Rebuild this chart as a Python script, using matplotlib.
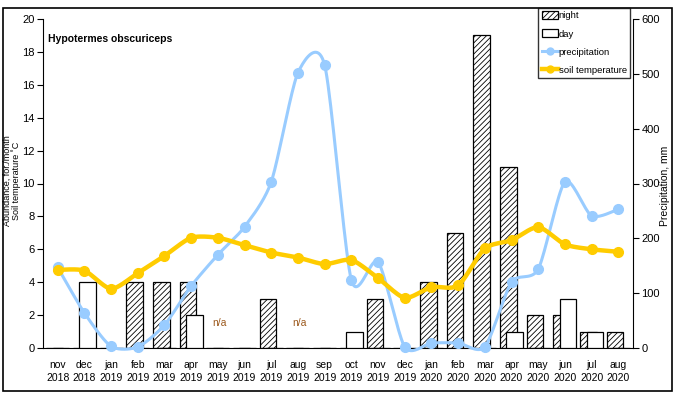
import numpy as np
import matplotlib
matplotlib.use("Agg")
import matplotlib.pyplot as plt
from matplotlib.patches import Rectangle, Patch
from matplotlib.lines import Line2D

plt.rcParams['font.family'] = ['Liberation Sans', 'DejaVu Sans']
plt.rcParams['hatch.linewidth'] = 0.6

months = ['nov\n2018', 'dec\n2018', 'jan\n2019', 'feb\n2019', 'mar\n2019', 'apr\n2019',
          'may\n2019', 'jun\n2019', 'jul\n2019', 'aug\n2019', 'sep\n2019', 'oct\n2019',
          'nov\n2019', 'dec\n2019', 'jan\n2020', 'feb\n2020', 'mar\n2020', 'apr\n2020',
          'may\n2020', 'jun\n2020', 'jul\n2020', 'aug\n2020']
night = [0, 0, 0, 4, 4, 4, 0, 0, 3, 0, 0, 0, 3, 0, 4, 7, 19, 11, 2, 2, 1, 1]
day = [0, 4, 0, 0, 0, 2, 0, 0, 0, 0, 0, 1, 0, 0, 0, 0, 0, 1, 0, 3, 1, 0]
precipitation = [147, 64, 3, 2, 42, 113, 170, 221, 303, 502, 516, 124,
                 157, 2, 9, 9, 2, 120, 144, 303, 241, 253]
soil_temp = [4.75, 4.7, 3.6, 4.55, 5.6, 6.7, 6.7, 6.25, 5.8, 5.5, 5.1, 5.35,
             4.25, 3.05, 3.7, 3.8, 6.05, 6.55, 7.35, 6.3, 6.0, 5.85]
na_months = ['may\n2019', 'aug\n2019']

def smooth(x, y, n=20, k=8.0):
    # excel style smoothed line (bezier between the points)
    x = np.asarray(x, float)
    y = np.asarray(y, float)
    px = np.concatenate([[x[0]], x, [x[-1]]])
    py = np.concatenate([[y[0]], y, [y[-1]]])
    xs, ys = [], []
    t = np.linspace(0, 1, n, endpoint=False)
    for i in range(1, len(px) - 2):
        for p, out in ((px, xs), (py, ys)):
            p0, p1, p2, p3 = p[i - 1], p[i], p[i + 1], p[i + 2]
            c1 = p1 + (p2 - p0) / k
            c2 = p2 - (p3 - p1) / k
            out.extend((1 - t) ** 3 * p1 + 3 * (1 - t) ** 2 * t * c1 + 3 * (1 - t) * t ** 2 * c2 + t ** 3 * p2)
    xs.append(x[-1])
    ys.append(y[-1])
    return np.array(xs), np.array(ys)

x = np.arange(len(months))
blue = '#99CCFF'
gold = '#FFCC00'

fig = plt.figure(figsize=(6.84, 3.99), dpi=100)
ax = fig.add_axes([43 / 684, 1 - 348 / 399, 590 / 684, 329 / 399])

ax.bar(x - 0.12, night, width=0.62, color='white', edgecolor='black', hatch='//////', linewidth=0.9, zorder=2)
ax.bar(x + 0.12, day, width=0.62, color='white', edgecolor='black', linewidth=0.9, zorder=3)
for m in na_months:
    ax.text(months.index(m) - 0.2, 1.5, 'n/a', color='#9C5A1E', fontsize=7.5, va='center')

ax.set_ylim(0, 20)
ax.set_xlim(-0.55, len(months) - 0.45)
ax.set_yticks(range(0, 21, 2))
ax.set_xticks(x)
ax.set_xticklabels(months, fontsize=7.5, linespacing=1.35)
ax.tick_params(axis='x', length=0, pad=9)
ax.tick_params(axis='y', direction='out', length=4, labelsize=8, pad=2)
for s in ['top', 'right']:
    ax.spines[s].set_visible(False)
ax.text(0.008, 0.955, 'Hypotermes obscuriceps', transform=ax.transAxes, fontsize=7.5,
        fontweight='bold', va='top')

ax2 = ax.twinx()
sx, sy = smooth(x, precipitation)
ax2.plot(sx, sy, color=blue, lw=2.2, clip_on=False, solid_capstyle='round')
ax2.plot(x, precipitation, 'o', color=blue, ms=7, clip_on=False)
ax2.set_ylim(0, 600)
ax2.set_yticks(range(0, 601, 100))
ax2.tick_params(axis='y', direction='out', length=4, labelsize=8, pad=2)
for s in ['top', 'left', 'bottom']:
    ax2.spines[s].set_visible(False)

ax3 = ax.twinx()
tx, ty = smooth(x, soil_temp)
ax3.plot(tx, ty, color=gold, lw=3.2, clip_on=False)
ax3.plot(x, soil_temp, 'o', color=gold, ms=7, clip_on=False)
ax3.set_ylim(0, 20)
ax3.axis('off')

fig.text(12 / 684, 1 - 181 / 399, 'Abundance, for./month\nSoil temperature ˚C', rotation=90,
         ha='center', va='center', fontsize=6.5, linespacing=0.95)
fig.text(665 / 684, 1 - 186 / 399, 'Precipitation, mm', rotation=90,
         ha='center', va='center', fontsize=7.5)

handles = [Patch(facecolor='white', edgecolor='black', hatch='//////', lw=0.9),
           Patch(facecolor='white', edgecolor='black', lw=0.9),
           Line2D([], [], color=blue, lw=2.2, marker='o', ms=5),
           Line2D([], [], color=gold, lw=3.2, marker='o', ms=5)]
leg = fig.legend(handles, ['night', 'day', 'precipitation', 'soil temperature'],
                 loc='upper right', bbox_to_anchor=(630 / 684, 1 - 8 / 399),
                 fontsize=6.8, frameon=True, fancybox=False, edgecolor='black',
                 borderaxespad=0, borderpad=0.35, handlelength=1.7, handleheight=0.9,
                 handletextpad=0.1, labelspacing=0.95)
leg.get_frame().set_linewidth(1.0)

fig.patches.append(Rectangle((3 / 684, 1 - 391 / 399), 669 / 684, 383 / 399,
                             transform=fig.transFigure, fill=False, edgecolor='black', lw=1.2))

fig.savefig('out.png', dpi=100)
